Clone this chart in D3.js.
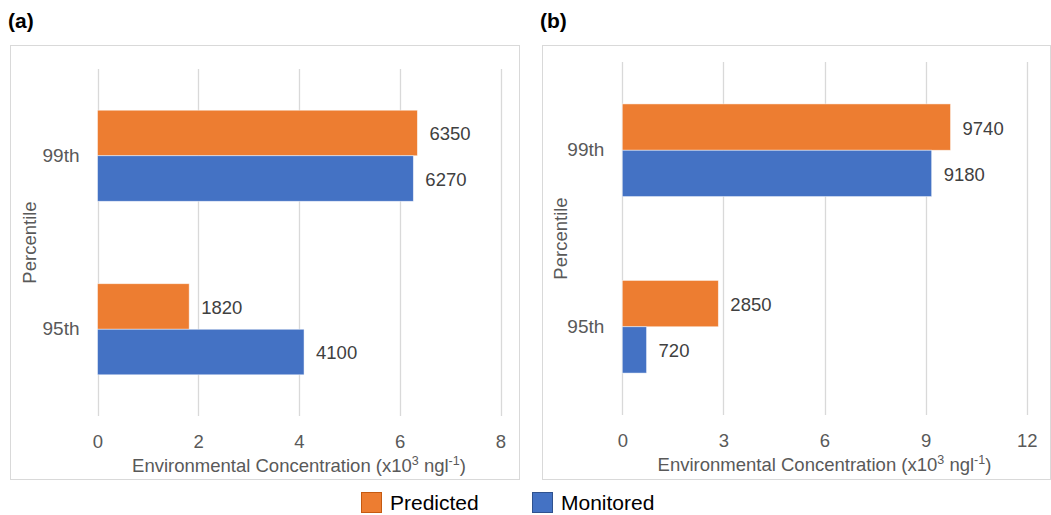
<!DOCTYPE html>
<html>
<head>
<meta charset="utf-8">
<script src="https://cdn.jsdelivr.net/npm/d3@7"></script>
<style>
  html, body { margin: 0; padding: 0; background: #fff; }
  svg { display: block; font-family: "Liberation Sans", Arial, sans-serif; }
</style>
</head>
<body>
<svg id="chart" width="1051" height="515"></svg>
<script>
// Percentile categories (top to bottom)
const categories = ["99th", "95th"];
const seriesNames = ["Predicted", "Monitored"];

// Panel (a) values, ng/l
const predictedA = [6350, 1820];
const monitoredA = [6270, 4100];
// Panel (b) values, ng/l
const predictedB = [9740, 2850];
const monitoredB = [9180, 720];

// Axis ticks, in thousands of ng/l
const ticksA = [0, 2, 4, 6, 8];
const ticksB = [0, 3, 6, 9, 12];

const colors = { Predicted: "#ED7D31", Monitored: "#4472C4" };
const strokes = { Predicted: "#C55A11", Monitored: "#2F528F" };

const svg = d3.select("#chart");

function panel(opts) {
  const { label, frame, plot, ticks, predicted, monitored } = opts;
  const g = svg.append("g");

  // frame
  g.append("rect")
    .attr("x", frame.x + 0.5).attr("y", frame.y + 0.5)
    .attr("width", frame.w).attr("height", frame.h)
    .attr("fill", "#fff").attr("stroke", "#D9D9D9").attr("stroke-width", 1);

  // panel letter
  g.append("text")
    .attr("x", frame.x - 2).attr("y", frame.y - 17)
    .attr("font-size", 21).attr("font-weight", "bold").attr("fill", "#000")
    .text(label);

  const x = d3.scaleLinear()
    .domain([ticks[0], ticks[ticks.length - 1]])
    .range([plot.x0, plot.x1]);
  const y = d3.scaleBand()
    .domain(categories)
    .range([plot.y0, plot.y1]);
  const yInner = d3.scaleBand()
    .domain(seriesNames)
    .range([0, y.bandwidth() * 0.525])
    .padding(0);
  const groupOffset = (y.bandwidth() - y.bandwidth() * 0.525) / 2;

  // vertical gridlines
  g.append("g").selectAll("line").data(ticks).join("line")
    .attr("x1", d => Math.round(x(d)) + 0.5).attr("x2", d => Math.round(x(d)) + 0.5)
    .attr("y1", plot.y0).attr("y2", plot.y1)
    .attr("stroke", "#D9D9D9").attr("stroke-width", 1.3);

  // x tick labels via axis
  const xAxis = d3.axisBottom(x).tickValues(ticks).tickSize(0).tickPadding(0).tickFormat(d3.format("d"));
  const ax = g.append("g").attr("transform", `translate(0,${plot.y1 + 19})`).call(xAxis);
  ax.select(".domain").remove();
  ax.selectAll("text")
    .attr("font-size", 18.5).attr("fill", "#595959")
    .attr("font-family", "Liberation Sans, Arial, sans-serif");

  // category labels via axis
  const yAxis = d3.axisLeft(y).tickSize(0).tickPadding(0);
  const ay = g.append("g").attr("transform", `translate(${plot.x0 - 18},0)`).call(yAxis);
  ay.select(".domain").remove();
  ay.selectAll("text")
    .attr("font-size", 19).attr("fill", "#595959")
    .attr("font-family", "Liberation Sans, Arial, sans-serif");

  // bars
  const rows = categories.map((c, i) => ({
    cat: c,
    values: [
      { name: "Predicted", value: predicted[i] },
      { name: "Monitored", value: monitored[i] }
    ]
  }));

  const grp = g.append("g").selectAll("g").data(rows).join("g")
    .attr("transform", d => `translate(0,${y(d.cat) + groupOffset})`);

  grp.selectAll("rect").data(d => d.values).join("rect")
    .attr("x", x(0))
    .attr("y", d => yInner(d.name))
    .attr("width", d => x(d.value / 1000) - x(0))
    .attr("height", yInner.bandwidth())
    .attr("fill", d => colors[d.name])
    .attr("stroke", "#fff").attr("stroke-opacity", 0.6).attr("stroke-width", 0.8);

  grp.selectAll("text").data(d => d.values).join("text")
    .attr("x", d => x(d.value / 1000) + 12)
    .attr("y", d => yInner(d.name) + yInner.bandwidth() / 2 + 1)
    .attr("dy", "0.35em")
    .attr("font-size", 18.5).attr("fill", "#404040")
    .text(d => d.value);

  // y-axis title
  g.append("text")
    .attr("transform", `translate(${opts.yTitleX},${(plot.y0 + plot.y1) / 2}) rotate(-90)`)
    .attr("text-anchor", "middle").attr("dy", "0.35em")
    .attr("font-size", 18.5).attr("fill", "#595959")
    .text("Percentile");

  // x-axis title with superscripts
  const t = g.append("text")
    .attr("x", (plot.x0 + plot.x1) / 2).attr("y", plot.y1 + 56)
    .attr("text-anchor", "middle")
    .attr("font-size", 18.5).attr("fill", "#595959");
  t.append("tspan").text("Environmental Concentration (x10");
  t.append("tspan").attr("font-size", 12.5).attr("dy", -7).text("3");
  t.append("tspan").attr("dy", 7).text(" ngl");
  t.append("tspan").attr("font-size", 12.5).attr("dy", -7).text("-1");
  t.append("tspan").attr("dy", 7).text(")");
}

panel({
  label: "(a)",
  frame: { x: 10, y: 45, w: 509, h: 434 },
  plot: { x0: 97.5, x1: 500.5, y0: 69, y1: 416 },
  ticks: ticksA, predicted: predictedA, monitored: monitoredA,
  yTitleX: 30
});

panel({
  label: "(b)",
  frame: { x: 542, y: 45, w: 508, h: 434 },
  plot: { x0: 622.3, x1: 1026.7, y0: 62, y1: 415 },
  ticks: ticksB, predicted: predictedB, monitored: monitoredB,
  yTitleX: 561
});

// legend
const legendX = [361, 532];
const lg = svg.append("g").selectAll("g").data(seriesNames).join("g")
  .attr("transform", (d, i) => `translate(${legendX[i]},492)`);
lg.append("rect")
  .attr("x", 0.5).attr("y", 0.5).attr("width", 20).attr("height", 20)
  .attr("fill", d => colors[d]).attr("stroke", d => strokes[d]).attr("stroke-width", 1);
lg.append("text")
  .attr("x", 29).attr("y", 11).attr("dy", "0.35em")
  .attr("font-size", 21).attr("fill", "#000")
  .text(d => d);
</script>
</body>
</html>
